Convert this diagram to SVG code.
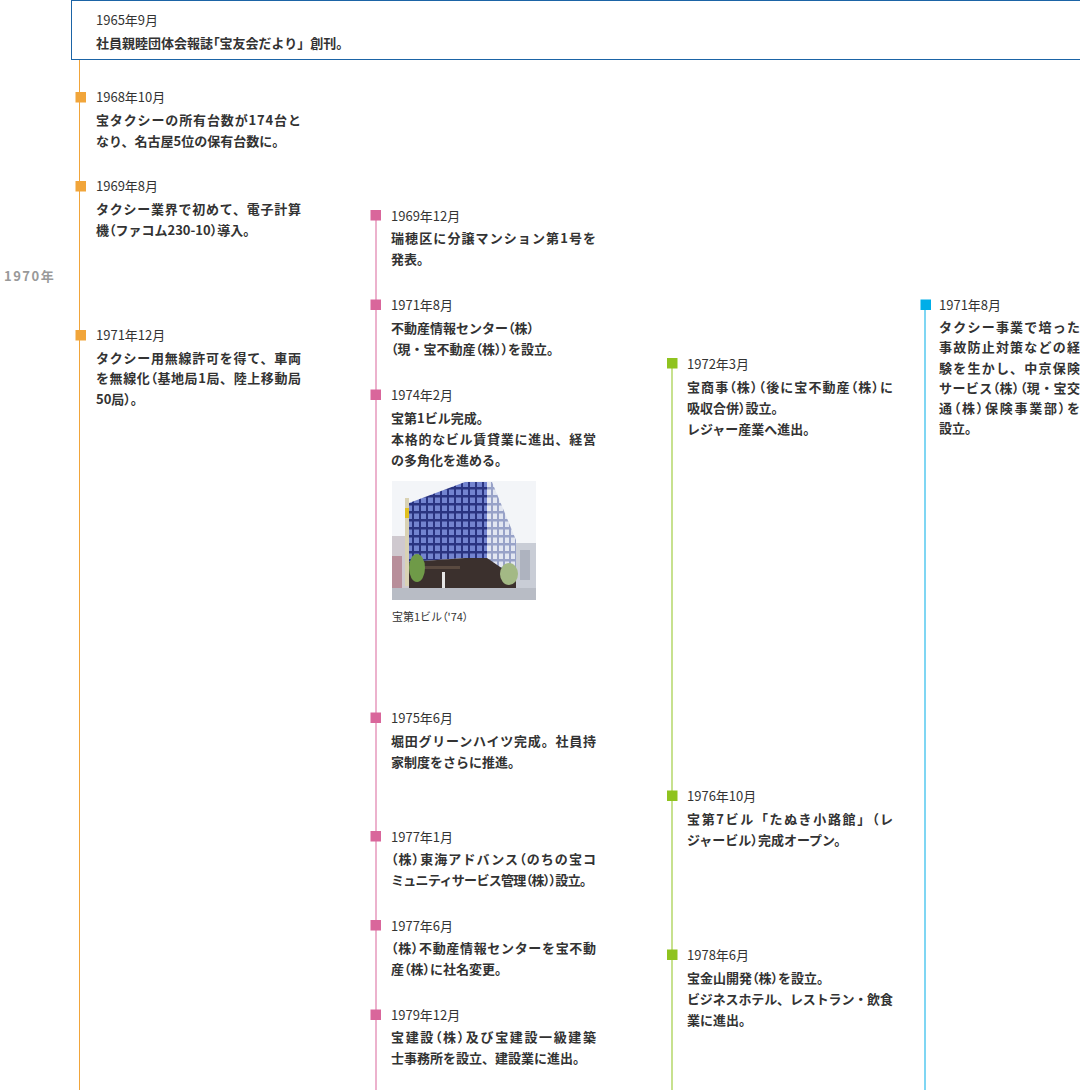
<svg xmlns="http://www.w3.org/2000/svg" width="1080" height="1090" viewBox="0 0 1080 1090">
<style>
text{font-family:"Noto Sans CJK JP","Noto Sans",sans-serif;fill:#333}
.d{font-size:13px;font-weight:400}
.b{font-size:13px;font-weight:700}
.q{font-feature-settings:"palt"}
.yr{font-size:13px;font-weight:700;fill:#999;letter-spacing:1.5px}
.cap{font-size:11px;font-weight:400}
.or{fill:#f1a53a}.pk{fill:#d9669b}.gr{fill:#8fc31f}.bl{fill:#00aee8}
</style>
<defs>
<pattern id="win" width="7" height="8" patternUnits="userSpaceOnUse">
<rect width="7" height="8" fill="#2a3480"/>
<rect x="1" y="1.5" width="5" height="5.5" fill="#7384cf"/>
</pattern>
<pattern id="win2" width="6" height="8" patternUnits="userSpaceOnUse">
<rect width="6" height="8" fill="#98a2c8"/>
<rect x="1" y="1.5" width="4" height="5.5" fill="#e2e6f1"/>
</pattern>
</defs>
<rect width="1080" height="1090" fill="#fff"/>

<g id="connectors">
<rect x="79" y="60" width="1" height="1030" fill="#f1a53a"/>
<rect x="375.5" y="215" width="1" height="875" fill="#d9669b"/>
<rect x="671.5" y="363" width="1" height="727" fill="#8fc31f"/>
<rect x="924.5" y="305" width="1" height="785" fill="#00aee8"/>
</g>

<g id="year1970"><text class="yr" x="4" y="280.5">1970年</text></g>

<g id="n1965">
<rect x="71.5" y="0.5" width="1020" height="59" fill="#fff" stroke="#1b64a6" stroke-width="1"/>
<text class="d" x="96" y="24.5">1965年9月</text>
<text class="b" x="96" y="47.5">社員親睦団体会報誌<tspan class="q">「</tspan>宝友会だより」創刊。</text>
</g>

<g id="n1968-10">
<rect class="or" x="75.5" y="92" width="10.5" height="10.5"/>
<text class="d" x="96" y="102">1968年10月</text>
<text class="b" x="96" y="125" textLength="205" lengthAdjust="spacing">宝タクシーの所有台数が174台と</text>
<text class="b" x="96" y="146">なり、名古屋5位の保有台数に。</text>
</g>

<g id="n1969-08">
<rect class="or" x="75.5" y="181" width="10.5" height="10.5"/>
<text class="d" x="96" y="191">1969年8月</text>
<text class="b" x="96" y="213.5" textLength="205" lengthAdjust="spacing">タクシー業界で初めて、電子計算</text>
<text class="b" x="96" y="234.5">機<tspan class="q">（</tspan>ファコム230-10<tspan class="q">）</tspan>導入。</text>
</g>

<g id="n1971-12">
<rect class="or" x="75.5" y="330" width="10.5" height="10.5"/>
<text class="d" x="96" y="340">1971年12月</text>
<text class="b" x="96" y="362.5" textLength="205" lengthAdjust="spacing">タクシー用無線許可を得て、車両</text>
<text class="b" x="96" y="383" textLength="205" lengthAdjust="spacing">を無線化<tspan class="q">（</tspan>基地局1局、陸上移動局</text>
<text class="b" x="96" y="403.5">50局<tspan class="q">）</tspan>。</text>
</g>

<g id="n1969-12">
<rect class="pk" x="370.5" y="210" width="10.5" height="10.5"/>
<text class="d" x="391" y="220.5">1969年12月</text>
<text class="b" x="391" y="243" textLength="205" lengthAdjust="spacing">瑞穂区に分譲マンション第1号を</text>
<text class="b" x="391" y="264">発表。</text>
</g>

<g id="n1971-08a">
<rect class="pk" x="370.5" y="299.5" width="10.5" height="10.5"/>
<text class="d" x="391" y="310">1971年8月</text>
<text class="b" x="391" y="332.5">不動産情報センター<tspan class="q">（</tspan>株<tspan class="q">）</tspan></text>
<text class="b" x="391" y="353.5"><tspan class="q">（</tspan>現・宝不動産<tspan class="q">（</tspan>株<tspan class="q">））</tspan>を設立。</text>
</g>

<g id="n1974-02">
<rect class="pk" x="370.5" y="389.5" width="10.5" height="10.5"/>
<text class="d" x="391" y="400">1974年2月</text>
<text class="b" x="391" y="422.5">宝第1ビル完成。</text>
<text class="b" x="391" y="443.5" textLength="205" lengthAdjust="spacing">本格的なビル賃貸業に進出、経営</text>
<text class="b" x="391" y="464.5">の多角化を進める。</text>
<g id="photo">
<rect x="392" y="481" width="144" height="119" fill="#f3f5f8"/>
<rect x="392" y="536" width="17" height="52" fill="#cfc9cf"/>
<rect x="392" y="556" width="10" height="32" fill="#b88e9a"/>
<rect x="405" y="498" width="4" height="88" fill="#d9d2b4"/>
<rect x="405" y="508" width="4" height="10" fill="#e0c020"/>
<polygon points="409,503 465,482 465,558 409,562" fill="url(#win)"/>
<polygon points="465,482 487,482 487,558 465,558" fill="url(#win)"/>
<polygon points="487,482 492,482 516,540 516,578 487,578" fill="url(#win2)"/>
<polygon points="409,562 465,558 487,558 516,578 516,590 409,590" fill="#3b302d"/>
<rect x="420" y="566" width="40" height="3" fill="#5a4a40"/>
<rect x="516" y="543" width="20" height="45" fill="#c9cdd6"/>
<rect x="520" y="550" width="10" height="30" fill="#aeb3bf"/>
<ellipse cx="417" cy="568" rx="8" ry="14" fill="#6f9a48"/>
<ellipse cx="509" cy="574" rx="9" ry="11" fill="#a3b985"/>
<rect x="442" y="572" width="3" height="16" fill="#e6e6e6"/>
<rect x="392" y="588" width="144" height="12" fill="#b8bcc5"/>
</g>
<text class="cap" x="392" y="621">宝第1ビル<tspan class="q">（</tspan>'74<tspan class="q">）</tspan></text>
</g>

<g id="n1975-06">
<rect class="pk" x="370.5" y="712.5" width="10.5" height="10.5"/>
<text class="d" x="391" y="723">1975年6月</text>
<text class="b" x="391" y="745.5" textLength="205" lengthAdjust="spacing">堀田グリーンハイツ完成。社員持</text>
<text class="b" x="391" y="766.5">家制度をさらに推進。</text>
</g>

<g id="n1977-01">
<rect class="pk" x="370.5" y="831" width="10.5" height="10.5"/>
<text class="d" x="391" y="841.5">1977年1月</text>
<text class="b" x="391" y="864" textLength="205" lengthAdjust="spacing"><tspan class="q">（</tspan>株<tspan class="q">）</tspan>東海アドバンス<tspan class="q">（</tspan>のちの宝コ</text>
<text class="b" x="391" y="885" textLength="202" lengthAdjust="spacing">ミュニティサービス管理<tspan class="q">（</tspan>株<tspan class="q">））</tspan>設立。</text>
</g>

<g id="n1977-06">
<rect class="pk" x="370.5" y="920" width="10.5" height="10.5"/>
<text class="d" x="391" y="930.5">1977年6月</text>
<text class="b" x="391" y="953" textLength="205" lengthAdjust="spacing"><tspan class="q">（</tspan>株<tspan class="q">）</tspan>不動産情報センターを宝不動</text>
<text class="b" x="391" y="973.5">産<tspan class="q">（</tspan>株<tspan class="q">）</tspan>に社名変更。</text>
</g>

<g id="n1979-12">
<rect class="pk" x="370.5" y="1009.5" width="10.5" height="10.5"/>
<text class="d" x="391" y="1020">1979年12月</text>
<text class="b" x="391" y="1042" textLength="205" lengthAdjust="spacing">宝建設<tspan class="q">（</tspan>株<tspan class="q">）</tspan>及び宝建設一級建築</text>
<text class="b" x="391" y="1062.5">士事務所を設立、建設業に進出。</text>
</g>

<g id="n1972-03">
<rect class="gr" x="667" y="358" width="10.5" height="10.5"/>
<text class="d" x="687" y="368.5">1972年3月</text>
<text class="b" x="687" y="392" textLength="206" lengthAdjust="spacing">宝商事<tspan class="q">（</tspan>株<tspan class="q">）（</tspan>後に宝不動産<tspan class="q">（</tspan>株<tspan class="q">）</tspan>に</text>
<text class="b" x="687" y="413">吸収合併<tspan class="q">）</tspan>設立。</text>
<text class="b" x="687" y="434">レジャー産業へ進出。</text>
</g>

<g id="n1976-10">
<rect class="gr" x="667" y="790.5" width="10.5" height="10.5"/>
<text class="d" x="687" y="801">1976年10月</text>
<text class="b" x="687" y="823.5" textLength="206" lengthAdjust="spacing">宝第7ビル「たぬき小路館」<tspan class="q">（</tspan>レ</text>
<text class="b" x="687" y="844.5">ジャービル<tspan class="q">）</tspan>完成オープン。</text>
</g>

<g id="n1978-06">
<rect class="gr" x="667" y="949.5" width="10.5" height="10.5"/>
<text class="d" x="687" y="960">1978年6月</text>
<text class="b" x="687" y="982.5">宝金山開発<tspan class="q">（</tspan>株<tspan class="q">）</tspan>を設立。</text>
<text class="b" x="687" y="1003.5" textLength="206" lengthAdjust="spacing">ビジネスホテル、レストラン・飲食</text>
<text class="b" x="687" y="1024.5">業に進出。</text>
</g>

<g id="n1971-08b">
<rect class="bl" x="920.5" y="299.5" width="10.5" height="10.5"/>
<text class="d" x="939" y="310">1971年8月</text>
<text class="b" x="939" y="332" textLength="141" lengthAdjust="spacing">タクシー事業で培った</text>
<text class="b" x="939" y="352" textLength="141" lengthAdjust="spacing">事故防止対策などの経</text>
<text class="b" x="939" y="372.5" textLength="141" lengthAdjust="spacing">験を生かし、中京保険</text>
<text class="b" x="939" y="393" textLength="141" lengthAdjust="spacing">サービス<tspan class="q">（</tspan>株<tspan class="q">）（</tspan>現・宝交</text>
<text class="b" x="939" y="413" textLength="141" lengthAdjust="spacing">通<tspan class="q">（</tspan>株<tspan class="q">）</tspan>保険事業部<tspan class="q">）</tspan>を</text>
<text class="b" x="939" y="433">設立。</text>
</g>
</svg>
